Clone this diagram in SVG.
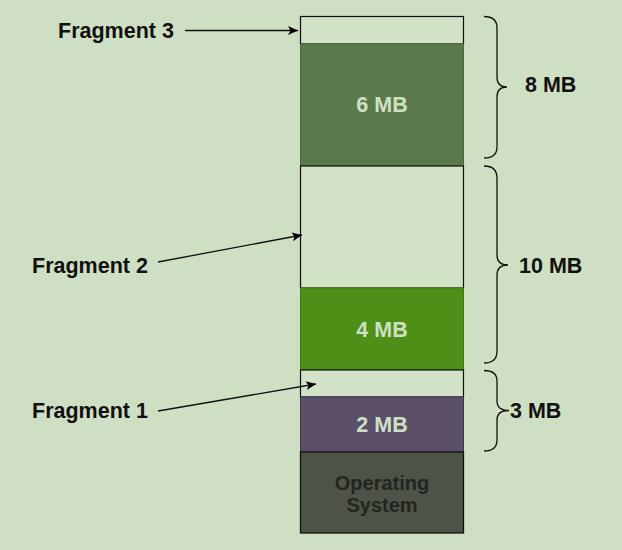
<svg xmlns="http://www.w3.org/2000/svg" width="622" height="550" viewBox="0 0 622 550">
<defs>
<marker id="arr" markerWidth="12" markerHeight="10" refX="10" refY="5" orient="auto" markerUnits="userSpaceOnUse">
<path d="M0,0.5 L10,5 L0,9.5 L2.5,5 Z" fill="#000"/>
</marker>
</defs>
<style>
.lbl{font-family:"Liberation Sans",Arial,sans-serif;font-weight:bold;font-size:21.5px;fill:#111}
.in{font-family:"Liberation Sans",Arial,sans-serif;font-weight:bold;font-size:21.5px;fill:#cfe0c2;text-anchor:middle}
.os{font-family:"Liberation Sans",Arial,sans-serif;font-size:20px;fill:#22261f;text-anchor:middle;font-weight:bold}
.free{fill:#d2e2c7;stroke:#111;stroke-width:1.2}
.brace{fill:none;stroke:#111;stroke-width:1.3}
.conn{fill:none;stroke:#111;stroke-width:1.3;marker-end:url(#arr)}
</style>
<rect x="0" y="0" width="622" height="550" fill="#cfdfc3"/>
<g id="frag3-box"><rect class="free" x="300.5" y="16.5" width="163" height="27.5"/></g>
<g id="box-6mb"><rect x="300.5" y="44" width="163" height="122" fill="#5a7a4b" stroke="#4b683e"/><text class="in" x="382" y="112">6 MB</text></g>
<g id="frag2-box"><rect class="free" x="300.5" y="166" width="163" height="122"/></g>
<g id="box-4mb"><rect x="300.5" y="288" width="163" height="82" fill="#4e9017" stroke="#3e7a0f"/><text class="in" x="382" y="337">4 MB</text></g>
<g id="frag1-box"><rect class="free" x="300.5" y="370" width="163" height="27"/></g>
<g id="box-2mb"><rect x="300.5" y="397" width="163" height="55" fill="#5b4f69" stroke="#3f3650"/><text class="in" x="382" y="432">2 MB</text></g>
<g id="box-os"><rect x="300.5" y="452" width="163" height="81" fill="#4d5347" stroke="#111" stroke-width="1.3"/><text class="os" x="382" y="490">Operating</text><text class="os" x="382" y="512">System</text></g>
<g id="label-frag3"><text class="lbl" x="58" y="37.5">Fragment 3</text></g>
<g id="label-frag2"><text class="lbl" x="32" y="272.5">Fragment 2</text></g>
<g id="label-frag1"><text class="lbl" x="32" y="417.5">Fragment 1</text></g>
<g id="brace-8mb"><path class="brace" d="M484,16.5 Q497,16.5 497,28 L497,77 Q497,87 507,87 Q497,87 497,97 L497,147 Q497,158 484,158"/><text class="lbl" x="525" y="92">8 MB</text></g>
<g id="brace-10mb"><path class="brace" d="M484,166 Q497,166 497,178 L497,255 Q497,265 508,265 Q497,265 497,275 L497,351 Q497,363 484,363"/><text class="lbl" x="519" y="272.5">10 MB</text></g>
<g id="brace-3mb"><path class="brace" d="M484,370.5 Q497,370.5 497,381 L497,401 Q497,410.5 509,410.5 Q497,410.5 497,420 L497,440 Q497,451 484,451"/><text class="lbl" x="510" y="417.5">3 MB</text></g>
<g id="connectors">
<line class="conn" x1="185" y1="30.5" x2="298" y2="30.5"/>
<line class="conn" x1="158" y1="262" x2="302" y2="235"/>
<line class="conn" x1="158" y1="411" x2="316" y2="384"/>
</g>
</svg>
